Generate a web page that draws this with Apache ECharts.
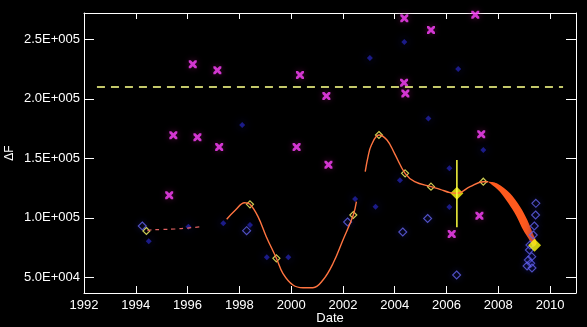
<!DOCTYPE html>
<html><head><meta charset="utf-8">
<script src="https://cdn.jsdelivr.net/npm/echarts@6/dist/echarts.min.js"></script>
<style>html,body{margin:0;padding:0;background:#000}#c{width:587px;height:327px}</style>
</head><body><div id="c"></div><script>
// ---- axis ticks ----
const xTicks = [1992, 1994, 1996, 1998, 2000, 2002, 2004, 2006, 2008, 2010];
const yTicks = [50000, 100000, 150000, 200000, 250000];

// ---- reference level ----
const refLine = [[1992.5, 210000], [2010.5, 210000]];

// ---- magenta crosses ----
const magentaX = [
  [1995.29,118900],[1995.45,169320],[1996.20,228990],[1996.38,167640],[1997.15,223950],
  [1997.22,159490],[2000.21,159490],[2000.34,219990],[2001.36,202350],[2001.44,144620],
  [2004.37,267650],[2005.40,257810],[2004.36,213530],[2004.41,204450],[2007.11,270670],
  [2007.34,170160],[2007.27,101760],[2006.20,86380]
];

// ---- blue outlined diamonds ----
const blueDiamonds = [
  [1994.25,93100],[1998.28,89150],[2002.18,96470],[2004.31,88060],[2005.27,99410],[2006.39,51930],
  [2009.45,112180],[2009.44,102350],[2009.39,93100],[2009.35,85540],[2009.22,77140],[2009.20,72940],
  [2009.29,67310],[2009.16,64530],[2009.25,61760],[2009.30,57810],[2009.11,59490]
];

// ---- dim blue points ----
const blueDots = [
  [1994.50,80250],[1996.03,92520],[1997.38,95370],[1999.06,66800],[1999.89,66800],[1998.11,177980],
  [2003.04,234280],[2004.37,247730],[2002.47,115790],[2003.26,109320],[2004.20,131510],[2005.30,183440],
  [2006.45,225040],[2007.42,156970],[2006.11,141590],[2006.11,109070],[1998.41,93940]
];

// ---- model curve pieces ----
const curveA = [[1994.45,89000],[1994.55,89740],[1995.0,90200],[1995.51,90580],[1996.0,91400],[1996.52,92520]];
const curveB = [
  [1997.51,98750],[1997.85,106500],[1998.20,112700],[1998.41,111340],[1998.72,100930],[1999.04,84130],
  [1999.43,65960],[1999.68,53370],[2000.07,43540],[2000.46,41270],[2000.84,41270],[2001.23,47740],
  [2001.62,61770],[2002.00,81350],[2002.40,102350],[2002.52,113540]
];
const curveC = [
  [2002.86,138740],[2002.97,151350],[2003.10,161180],[2003.39,169580],[2003.70,165380],[2003.99,154200],
  [2004.40,137390],[2004.77,130340],[2005.40,126130],[2005.75,123950],[2006.13,121160],[2006.40,120590],
  [2006.91,126130],[2007.42,130330],[2007.61,130330]
];
const bandOuter = [
  [2007.61,130330],[2007.94,128990],[2008.45,120580],[2008.84,109320],[2009.12,98150],[2009.33,86970],[2009.48,78570]
];
const bandInner = [
  [2009.35,75710],[2009.20,81340],[2008.96,89740],[2008.71,100920],[2008.39,112180],[2008.06,121930],[2007.68,128990]
];

// ---- yellow markers ----
const smallYellow = [
  [1994.41,88900],[1998.41,111340],[1999.43,65960],[2002.40,102350],[2003.39,169580],
  [2004.40,137390],[2005.40,126130],[2007.42,130330]
];
const bigYellow = [[2006.40,120590],[2009.40,76890]];
const errYear = [2006.40];
const errLow = [92020];
const errHigh = [148580];

const fmtY = v => {
  const e = Math.floor(Math.log10(v));
  const m = v / Math.pow(10, e);
  return m.toFixed(1) + 'E+' + String(e).padStart(3, '0');
};
const FONT = 'Liberation Sans';
const xPath = 'path://M0,0 L2.5,0 L5,2.5 L7.5,0 L10,0 L10,2.5 L7.5,5 L10,7.5 L10,10 L7.5,10 L5,7.5 L2.5,10 L0,10 L0,7.5 L2.5,5 L0,2.5 Z';

const chart = echarts.init(document.getElementById('c'));
const axLine = {show: true, lineStyle: {color: '#fff', width: 1}};
chart.setOption({
  backgroundColor: '#000',
  animation: false,
  grid: {left: 84, right: 11, top: 13, bottom: 34, containLabel: false, outerBoundsMode: 'none'},
  xAxis: [
    {type: 'value', min: 1992, max: 2011, position: 'bottom',
     axisLine: axLine, splitLine: {show: false},
     axisTick: {show: true, inside: true, length: 7, customValues: xTicks, lineStyle: {color: '#fff'}},
     axisLabel: {customValues: xTicks, color: '#fff', fontFamily: FONT, fontSize: 13, margin: 6, formatter: v => String(v)},
     name: 'Date', nameLocation: 'middle', nameGap: 19, nameMoveOverlap: false,
     nameTextStyle: {color: '#fff', fontFamily: FONT, fontSize: 13, verticalAlign: 'top'}},
    {type: 'value', min: 1992, max: 2011, position: 'top',
     axisLine: axLine, splitLine: {show: false},
     axisTick: {show: true, inside: true, length: 6, customValues: xTicks, lineStyle: {color: '#fff'}},
     axisLabel: {show: false}}
  ],
  yAxis: [
    {type: 'value', min: 36800, max: 272100, position: 'left',
     axisLine: axLine, splitLine: {show: false},
     axisTick: {show: true, inside: true, length: 10, customValues: yTicks, lineStyle: {color: '#fff'}},
     axisLabel: {customValues: yTicks, color: '#fff', fontFamily: FONT, fontSize: 13, margin: 4, formatter: fmtY},
     name: 'ΔF', nameLocation: 'middle', nameRotate: 90, nameGap: 68, nameMoveOverlap: false,
     nameTextStyle: {color: '#fff', fontFamily: FONT, fontSize: 12}},
    {type: 'value', min: 36800, max: 272100, position: 'right',
     axisLine: axLine, splitLine: {show: false},
     axisTick: {show: true, inside: true, length: 10, customValues: yTicks, lineStyle: {color: '#fff'}},
     axisLabel: {show: false}}
  ],
  series: [
    {type: 'line', data: refLine, symbol: 'none', silent: true,
     lineStyle: {color: '#c4c86a', width: 2, type: [8, 6]}},
    {type: 'scatter', data: blueDots, symbol: 'diamond', symbolSize: 6,
     itemStyle: {color: '#2222a8', shadowBlur: 10, shadowColor: '#181880'}},
    {type: 'scatter', data: blueDiamonds, symbol: 'diamond', symbolSize: 8,
     itemStyle: {color: 'rgba(0,0,0,0)', borderColor: '#6464f0', borderWidth: 1.1, shadowBlur: 6, shadowColor: '#20208a'}},
    {type: 'scatter', data: magentaX, symbol: xPath, symbolSize: 8,
     itemStyle: {color: '#ff44ff', shadowBlur: 6, shadowColor: '#6a1050'}},
    {type: 'line', data: curveA, symbol: 'none', smooth: 0.4,
     lineStyle: {color: '#e06060', width: 1.2, type: [4, 4]}},
    {type: 'line', data: curveB, symbol: 'none', smooth: 0.4,
     lineStyle: {color: '#ff7440', width: 1.4}},
    {type: 'line', data: curveC, symbol: 'none', smooth: 0.4,
     lineStyle: {color: '#ff7440', width: 1.4}},
    {type: 'custom', data: [bandOuter[0]],
     renderItem: (params, api) => {
       const pts = bandOuter.concat(bandInner).map(p => api.coord(p));
       return {type: 'polygon', shape: {points: pts, smooth: 0.3}, style: {fill: '#ff5a1e'}};
     }},
    {type: 'line', data: [[errYear[0], errLow[0]], [errYear[0], errHigh[0]]], symbol: 'none',
     lineStyle: {color: '#ffff40', width: 1.5}},
    {type: 'scatter', data: smallYellow, symbol: 'diamond', symbolSize: 7,
     itemStyle: {color: 'rgba(0,0,0,0)', borderColor: '#ffff66', borderWidth: 1.2}},
    {type: 'scatter', data: bigYellow, symbol: 'diamond', symbolSize: 13,
     itemStyle: {color: '#ffff10'}}
  ]
});
</script></body></html>
